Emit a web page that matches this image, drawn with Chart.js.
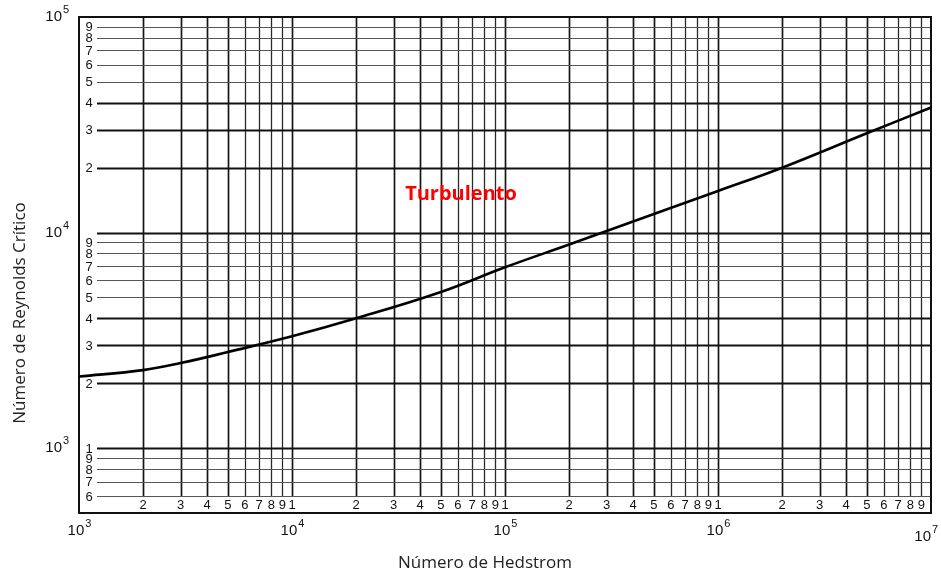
<!DOCTYPE html>
<html>
<head>
<meta charset="utf-8">
<title>Número de Reynolds Crítico vs Número de Hedstrom</title>
<script src="https://cdn.jsdelivr.net/npm/chart.js@4.4.1/dist/chart.umd.min.js"></script>
<style>
  html, body { margin: 0; padding: 0; background: #fff; }
  #wrap { width: 941px; height: 573px; }
</style>
</head>
<body>
<div id="wrap"><canvas id="chart" width="941" height="573"></canvas></div>
<script>
  // critical Reynolds number as a function of the Hedstrom number
  var hedstrom = [1e3, 2e3, 3e3, 5e3, 1e4, 2e4, 5e4, 1e5, 2e5, 5e5, 1e6, 2e6, 5e6, 1e7];
  var reynoldsCrit = [2150, 2300, 2480, 2790, 3300, 4000, 5300, 6900, 8800, 12200, 15600, 20000, 28900, 38000];

  // log-paper layout: decades and the minor digits printed inside the frame
  var xDecades = [1e3, 1e4, 1e5, 1e6];
  var yDecades = [1e3, 1e4];
  var yLowDigits = [6, 7, 8, 9];          // 600..900 below the 10^3 line
  var digits = [1, 2, 3, 4, 5, 6, 7, 8, 9];
  var xDecadeLabels = [[1e3, "3"], [1e4, "4"], [1e5, "5"], [1e6, "6"], [1e7, "7"]];
  var yDecadeLabels = [[1e5, "5"], [1e4, "4"], [1e3, "3"]];

  var X_MIN = 1e3, X_MAX = 1e7, Y_MIN = 500, Y_MAX = 1e5;
  var STRIP_Y = 600;                       // x digits sit below this line
  var INK = "#111";

  function line(ctx, x1, y1, x2, y2, w, c) {
    ctx.strokeStyle = c; ctx.lineWidth = w;
    ctx.beginPath(); ctx.moveTo(x1, y1); ctx.lineTo(x2, y2); ctx.stroke();
  }

  // "10" with a raised exponent; align decides where x sits
  function power(ctx, x, y, exp, align) {
    ctx.font = "15px 'Liberation Sans', sans-serif";
    var w = ctx.measureText("10").width;
    ctx.font = "11px 'Liberation Sans', sans-serif";
    var we = ctx.measureText(exp).width;
    var left = align === "right" ? x - w : (align === "center" ? x - (w + we) / 2 : x);
    ctx.fillStyle = INK;
    ctx.textAlign = "left"; ctx.textBaseline = "middle";
    ctx.font = "15px 'Liberation Sans', sans-serif";
    ctx.fillText("10", left, y);
    ctx.font = "11px 'Liberation Sans', sans-serif";
    ctx.fillText(exp, left + w + 1, y - 7);
  }

  var logPaper = {
    id: "logPaper",
    beforeDatasetsDraw: function (chart) {
      var ctx = chart.ctx, a = chart.chartArea;
      var xs = chart.scales.x, ys = chart.scales.y;
      var stripTop = ys.getPixelForValue(STRIP_Y);
      ctx.save();
      ctx.lineCap = "butt";

      // vertical rulings
      xDecades.forEach(function (d) {
        digits.forEach(function (m) {
          var v = d * m;
          if (v <= X_MIN) return;
          var px = Math.round(xs.getPixelForValue(v)) + 0.5;
          var heavy = m === 1 || m <= 5;
          line(ctx, px, a.top, px, stripTop, heavy ? 1.7 : 1.3, heavy ? "#151515" : "#2a2a2a");
        });
      });

      // horizontal rulings
      var yVals = yLowDigits.map(function (m) { return m * 100; });
      yDecades.forEach(function (d) {
        digits.forEach(function (m) { yVals.push(d * m); });
      });
      var startX = a.left + 18;
      yVals.forEach(function (v) {
        var py = Math.round(ys.getPixelForValue(v)) + 0.5;
        var lead = String(v)[0];
        var heavy = "1234".indexOf(lead) >= 0;
        line(ctx, startX, py, a.right, py, heavy ? 1.8 : 1.2, heavy ? "#111" : "#555");
      });

      // frame
      ctx.strokeStyle = INK; ctx.lineWidth = 2;
      ctx.strokeRect(a.left, a.top, a.right - a.left, a.bottom - a.top);

      // digits along the left strip
      ctx.fillStyle = INK;
      ctx.font = "13px 'Liberation Sans', sans-serif";
      ctx.textAlign = "center"; ctx.textBaseline = "middle";
      yVals.forEach(function (v) {
        if (v === 1e4) return;
        ctx.fillText(String(v)[0], a.left + 10, ys.getPixelForValue(v) + 1);
      });

      // digits along the bottom strip
      var stripMid = (stripTop + a.bottom) / 2 + 1;
      xDecades.forEach(function (d) {
        digits.forEach(function (m) {
          var v = d * m;
          if (v <= X_MIN) return;
          ctx.fillText(String(m), xs.getPixelForValue(v), stripMid);
        });
      });

      // decade labels outside the frame
      yDecadeLabels.forEach(function (p) {
        power(ctx, 62, ys.getPixelForValue(p[0]), p[1], "right");
      });
      xDecadeLabels.forEach(function (p) {
        var px = xs.getPixelForValue(p[0]);
        if (p[1] === "7") power(ctx, px, 537, p[1], "right");
        else power(ctx, px, 531, p[1], "center");
      });

      // axis titles
      ctx.fillStyle = "#222";
      ctx.font = "17px 'Open Sans', sans-serif";
      ctx.textAlign = "center"; ctx.textBaseline = "middle";
      ctx.fillText("Número de Hedstrom", 485, 563);
      ctx.save();
      ctx.translate(20, 313);
      ctx.rotate(-Math.PI / 2);
      ctx.fillText("Número de Reynolds Crítico", 0, 0);
      ctx.restore();

      // region label
      ctx.fillStyle = "#ff0000";
      ctx.font = "bold 20px 'Open Sans', sans-serif";
      ctx.fillText("Turbulento", 461, 194);

      ctx.restore();
    }
  };

  new Chart(document.getElementById("chart"), {
    type: "line",
    data: {
      datasets: [{
        label: "Reynolds crítico",
        data: hedstrom.map(function (x, i) { return { x: x, y: reynoldsCrit[i] }; }),
        borderColor: "#000",
        borderWidth: 2.6,
        pointRadius: 0,
        fill: false,
        tension: 0.4
      }]
    },
    options: {
      responsive: false,
      animation: false,
      layout: { padding: { left: 79, right: 10, top: 17, bottom: 60 } },
      scales: {
        x: { type: "logarithmic", min: X_MIN, max: X_MAX, display: false },
        y: { type: "logarithmic", min: Y_MIN, max: Y_MAX, display: false }
      },
      plugins: { legend: { display: false }, tooltip: { enabled: false } }
    },
    plugins: [logPaper]
  });
</script>
</body>
</html>
